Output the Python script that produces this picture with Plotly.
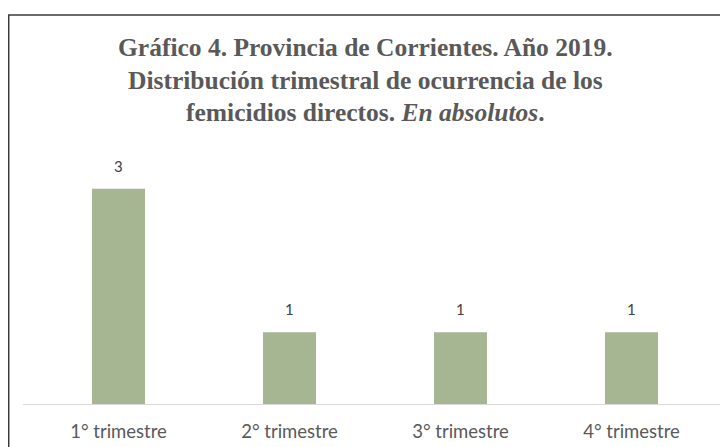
import plotly.graph_objects as go

categories = ["1° trimestre", "2° trimestre", "3° trimestre", "4° trimestre"]
values = [3, 1, 1, 1]
title_lines = [
    "Gráfico 4. Provincia de Corrientes. Año 2019.",
    "Distribución trimestral de ocurrencia de los",
    "femicidios directos. <i>En absolutos</i>.",
]

OFF = 8  # default body margin of the page
W, H = 728 - OFF, 447 - OFF
def px(x): return (x - OFF) / W
def py(y): return 1 - (y - OFF) / H

fig = go.Figure()
fig.add_trace(go.Bar(
    x=categories, y=values,
    marker=dict(color="#a6b592", line=dict(width=0)),
    width=0.31,
))

annotations = []
for c, v in zip(categories, values):
    annotations.append(dict(
        text=str(v), x=c, y=v, xref="x", yref="y",
        xanchor="center", yanchor="middle", yshift=23, showarrow=False,
        font=dict(family="Lato, Open Sans, sans-serif", size=15, color="#404040"),
    ))
for line, yy in zip(title_lines, [47, 80, 113]):
    annotations.append(dict(
        text="<b>" + line + "</b>", x=px(365), y=py(yy), xref="paper", yref="paper",
        xanchor="center", yanchor="middle", showarrow=False,
        font=dict(family="Liberation Serif, serif", size=25.5, color="#595959"),
    ))

fig.update_layout(
    width=W, height=H,
    margin=dict(l=0, r=0, t=0, b=0),
    paper_bgcolor="white", plot_bgcolor="white",
    showlegend=False,
    xaxis=dict(domain=[px(33), px(717)], range=[-0.5, 3.5], showline=False,
               showgrid=False, ticks="", ticklabelstandoff=14, automargin=False,
               tickfont=dict(family="Lato, Open Sans, sans-serif", size=18.5, color="#595959")),
    yaxis=dict(domain=[py(404), py(153)], range=[0, 3.5], visible=False, automargin=False),
    annotations=annotations,
    shapes=[
        dict(type="line", xref="paper", yref="paper", x0=px(23), x1=1,
             y0=py(404.5), y1=py(404.5), line=dict(color="#d9d9d9", width=1)),
        dict(type="line", xref="paper", yref="paper", x0=0, x1=1,
             y0=py(15), y1=py(15), line=dict(color="#3a3a3a", width=1.5)),
        dict(type="line", xref="paper", yref="paper", x0=0.001, x1=0.001,
             y0=0, y1=py(15), line=dict(color="#3a3a3a", width=1.5)),
    ],
)

fig.write_html("out.html")
